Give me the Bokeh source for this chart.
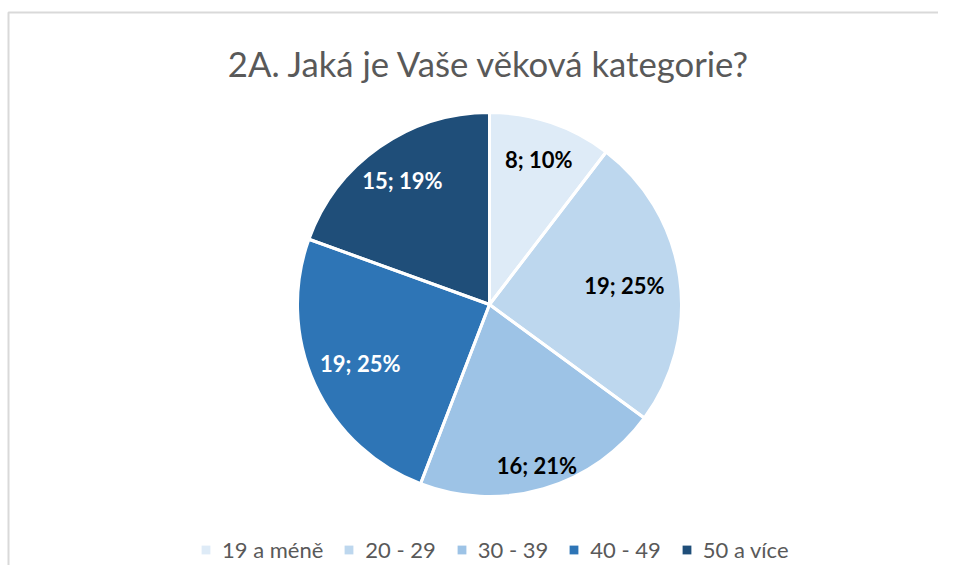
import math
from bokeh.plotting import figure
from bokeh.models import Range1d, Label, Legend, LegendItem, ColumnDataSource
from bokeh.embed import file_html
from bokeh.resources import INLINE
from bokeh.core.properties import value

# ---- data ----
title_text = "2A. Jaká je Vaše věková kategorie?"
categories = ["19 a méně", "20 - 29", "30 - 39", "40 - 49", "50 a více"]
counts = [8, 19, 16, 19, 15]

# ---- style ----
colors = ["#DEEBF7", "#BDD7EE", "#9DC3E6", "#2E75B6", "#1F4E79"]
label_colors = ["#000000", "#000000", "#000000", "#FFFFFF", "#FFFFFF"]
label_radius = [0.80, 0.71, 0.875, 0.74, 0.79]
FONT = "Lato"

W, H = 938, 565
CX, CY, R = 489, 261, 192

total = sum(counts)
starts, ends, lx, ly, labels = [], [], [], [], []
cum = 0
for c, lr in zip(counts, label_radius):
    a0 = math.pi / 2 - 2 * math.pi * cum / total
    cum += c
    a1 = math.pi / 2 - 2 * math.pi * cum / total
    starts.append(a0)
    ends.append(a1)
    m = (a0 + a1) / 2
    lx.append(CX + lr * R * math.cos(m))
    ly.append(CY + lr * R * math.sin(m))
    labels.append(f"{c}; {round(100 * c / total)}%")

src = ColumnDataSource(dict(cat=categories, count=counts, start=starts, end=ends,
                            color=colors, lx=lx, ly=ly, lab=labels, lc=label_colors))

p = figure(width=W, height=H, output_backend="svg", toolbar_location=None,
           x_range=Range1d(0, W), y_range=Range1d(0, H), min_border=0,
           background_fill_color="white", border_fill_color="white")
p.axis.visible = False
p.grid.visible = False
p.outline_line_color = None

# chart frame (decorative border, top and left edges visible)
p.line(x=[8, 8, 2000], y=[-100, 553, 553], line_color="#d9d9d9", line_width=2)

# filled slices (also used for the legend swatches)
fill_r = p.wedge(x=CX, y=CY, radius=R, start_angle="start", end_angle="end",
                 direction="clock", fill_color="color", line_color=None, source=src)
# white separators
p.wedge(x=CX, y=CY, radius=R, start_angle="start", end_angle="end",
        direction="clock", fill_color=None, line_color="white", line_width=3, source=src)

p.text(x="lx", y="ly", text="lab", text_color="lc", text_align="center",
       text_baseline="middle", text_font=value(FONT), text_font_style="bold",
       text_font_size="22px", source=src)

p.add_layout(Label(x=489, y=502, text=title_text, text_align="center",
                   text_baseline="alphabetic", text_font=FONT, text_font_size="34.7px",
                   text_color="#595959"))

items = [LegendItem(label=cat, renderers=[fill_r], index=i)
         for i, cat in enumerate(categories)]

legend = Legend(items=items, orientation="horizontal", location=(200, 2),
                glyph_width=11, glyph_height=11, label_standoff=11, spacing=20,
                padding=14, margin=0, label_text_font=FONT, label_text_font_size="22px",
                label_text_color="#595959", label_height=21,
                border_line_color=None, background_fill_alpha=0)
p.add_layout(legend)

open("out.html", "w").write(file_html(p, INLINE))
